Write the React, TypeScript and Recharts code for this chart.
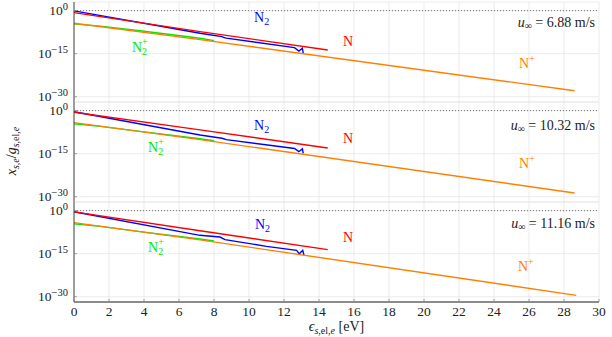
import React from 'react';
import { LineChart, Line, XAxis, YAxis, CartesianGrid, ReferenceLine, ReferenceDot } from 'recharts';

const WIDTH = 612;
const HEIGHT = 337;
const FONT = '"Liberation Serif", "DejaVu Serif", serif';
const TXT = { fontFamily: FONT };

const X_TICKS = [0, 2, 4, 6, 8, 10, 12, 14, 16, 18, 20, 22, 24, 26, 28, 30];
const Y_TICKS = [1e-30, 1e-15, 1];
const Y_DOMAIN = [1.5e-32, 1e3];
const SPEEDS = ['6.88', '10.32', '11.16'];

// ---- Panel 1 (u = 6.88 m/s)
const p1N2E = [0, 7.2, 8.45, 8.55, 8.7, 12.6, 12.85, 13.05, 13.1];
const p1N2 = [7.9e-1, 1.26e-8, 8.9e-10, 5.0e-10, 2.5e-10, 1.26e-13, 7.9e-15, 7.9e-14, 1.26e-15];
const p1NE = [0, 7.2, 14.5];
const p1N = [2.0e-1, 5.0e-8, 2.0e-14];
const p1N2pE = [0, 1.5, 4, 7.2, 8.0];
const p1N2p = [2.5e-5, 4.0e-6, 6.3e-8, 2.5e-10, 3.55e-11];
const p1NpE = [0, 7.2, 28.6];
const p1Np = [4.0e-5, 7.9e-11, 1.26e-28];

// ---- Panel 2 (u = 10.32 m/s)
const p2N2E = [0, 7.2, 8.45, 8.55, 8.7, 12.6, 12.85, 13.05, 13.1];
const p2N2 = [4.0e-1, 3.16e-9, 2.5e-10, 1.58e-10, 7.9e-11, 6.3e-14, 5.0e-15, 5.0e-14, 1.26e-15];
const p2NE = [0, 7.2, 14.5];
const p2N = [2.8e-1, 2.0e-7, 1.0e-13];
const p2N2pE = [0, 1.5, 4, 7.2, 8.0];
const p2N2p = [2.5e-5, 3.16e-6, 4.0e-8, 1.58e-10, 3.16e-11];
const p2NpE = [0, 7.2, 28.6];
const p2Np = [6.3e-5, 7.9e-11, 2.0e-29];

// ---- Panel 3 (u = 11.16 m/s)
const p3N2E = [0, 7.2, 8.34, 8.63, 11.0, 12.72, 12.87, 13.07, 13.14];
const p3N2 = [4.0e-1, 2.5e-9, 6.3e-10, 7.9e-11, 3.55e-13, 1.41e-14, 1.0e-15, 1.41e-14, 3.16e-16];
const p3NE = [0, 7.2, 14.5];
const p3N = [3.55e-1, 1.0e-7, 2.5e-14];
const p3N2pE = [0, 1.5, 4, 7.2, 8.0];
const p3N2p = [2.5e-5, 3.16e-6, 3.16e-8, 1.26e-10, 2.5e-11];
const p3NpE = [0, 7.2, 28.7];
const p3Np = [6.3e-5, 6.3e-11, 3.16e-30];

// label anchors: [energy, log10 value]
const LABEL_POS = [
  { N2: [10.29, -3.94], N: [15.37, -12.31], N2p: [3.31, -14.4], Np: [25.43, -20.0], u: [29.77, -5.69] },
  { N2: [10.29, -6.6], N: [15.37, -11.2], N2p: [4.23, -14.4], Np: [25.43, -19.9], u: [29.77, -6.6] },
  { N2: [10.34, -6.28], N: [15.37, -10.8], N2p: [4.23, -14.3], Np: [25.37, -20.9], u: [29.77, -5.93] },
];

const COLORS = { N2: '#0000ff', N: '#ff0000', N2p: '#00e600', Np: '#ff8000' };

const PANEL_TOPS = [2, 102, 202];
const PLOT_H = 100;
const PLOT_LEFT = 74;
const PLOT_RIGHT_MARGIN = 13;

type Pt = { e: number; v: number };
const zip = (E: number[], V: number[]): Pt[] => E.map((e, i) => ({ e, v: V[i] }));

const PANELS = [
  { N2: zip(p1N2E, p1N2), N: zip(p1NE, p1N), N2p: zip(p1N2pE, p1N2p), Np: zip(p1NpE, p1Np) },
  { N2: zip(p2N2E, p2N2), N: zip(p2NE, p2N), N2p: zip(p2N2pE, p2N2p), Np: zip(p2NpE, p2Np) },
  { N2: zip(p3N2E, p3N2), N: zip(p3NE, p3N), N2p: zip(p3N2pE, p3N2p), Np: zip(p3NpE, p3Np) },
];

const makeXTickBottom = (showLabel: boolean) => (props: any) => {
  const { x, y, payload } = props;
  return (
    <g>
      <line x1={x} x2={x} y1={y} y2={y - 3} stroke="#888" strokeWidth={0.8} />
      {showLabel && (
        <text x={x} y={y + 14} textAnchor="middle" style={TXT} fontSize={13.5} fill="#222">
          {payload.value}
        </text>
      )}
    </g>
  );
};

const XTickTop = (props: any) => {
  const { x, y } = props;
  return <line x1={x} x2={x} y1={y} y2={y + 3} stroke="#888" strokeWidth={0.8} />;
};

const YTickLeft = (props: any) => {
  const { x, y, payload } = props;
  const exp = Math.round(Math.log10(payload.value));
  const expStr = exp < 0 ? '\u2212' + String(-exp) : String(exp);
  return (
    <g>
      <line x1={x} x2={x + 3} y1={y} y2={y} stroke="#888" strokeWidth={0.8} />
      <text x={x - 6} y={y + 4.5} textAnchor="end" style={TXT} fontSize={13.5} fill="#222">
        10
        <tspan dy={-5.5} fontSize={10.5}>
          {expStr}
        </tspan>
      </text>
    </g>
  );
};

const YTickRight = (props: any) => {
  const { x, y } = props;
  return <line x1={x} x2={x - 3} y1={y} y2={y} stroke="#888" strokeWidth={0.8} />;
};

const SpeciesText = ({ cx, cy, kind, color }: any) => {
  const fs = 14;
  if (kind === 'N2')
    return (
      <text x={cx} y={cy} style={TXT} fontSize={fs} fill={color}>
        N<tspan dy={3} fontSize={10}>2</tspan>
      </text>
    );
  if (kind === 'N')
    return (
      <text x={cx} y={cy} style={TXT} fontSize={fs} fill={color}>
        N
      </text>
    );
  if (kind === 'N2p')
    return (
      <text x={cx} y={cy} style={TXT} fontSize={fs} fill={color}>
        N<tspan dy={3} fontSize={10}>2</tspan>
        <tspan dx={-5} dy={-9.5} fontSize={10}>+</tspan>
      </text>
    );
  return (
    <text x={cx} y={cy} style={TXT} fontSize={fs} fill={color}>
      N<tspan dy={-6} fontSize={10}>+</tspan>
    </text>
  );
};

const SpeedText = ({ cx, cy, speed }: any) => (
  <text x={cx} y={cy} textAnchor="end" style={TXT} fontSize={14} fill="#222" xmlSpace="preserve">
    <tspan fontStyle="italic">u</tspan>
    <tspan dy={2.5} fontSize={10}>{'\u221E'}</tspan>
    <tspan dy={-2.5}>{' = ' + speed + ' m/s'}</tspan>
  </text>
);

const Panel = ({ idx }: { idx: number }) => {
  const top = PANEL_TOPS[idx];
  const isLast = idx === PANELS.length - 1;
  const xAxisH = isLast ? 35 : 0;
  const bottom = HEIGHT - top - PLOT_H - xAxisH;
  const series = PANELS[idx];
  const lp: any = LABEL_POS[idx];
  const kinds: Array<'N2' | 'N' | 'N2p' | 'Np'> = ['N2', 'N', 'N2p', 'Np'];
  return (
    <div style={{ position: 'absolute', left: 0, top: 0 }}>
      <LineChart
        width={WIDTH}
        height={HEIGHT}
        margin={{ top, right: PLOT_RIGHT_MARGIN, bottom, left: 0 }}
      >
        <CartesianGrid stroke="#e6e6e6" strokeWidth={0.8} />
        <XAxis
          dataKey="e"
          type="number"
          domain={[0, 30]}
          ticks={X_TICKS}
          interval={0}
          height={xAxisH}
          tickSize={0}
          tickMargin={0}
          tickLine={false}
          axisLine={{ stroke: '#222', strokeWidth: 1 }}
          tick={makeXTickBottom(isLast)}
        />
        <XAxis
          xAxisId="top"
          orientation="top"
          dataKey="e"
          type="number"
          domain={[0, 30]}
          ticks={X_TICKS}
          interval={0}
          height={0}
          tickSize={0}
          tickMargin={0}
          tickLine={false}
          axisLine={{ stroke: '#222', strokeWidth: 1 }}
          tick={XTickTop}
        />
        <YAxis
          type="number"
          scale="log"
          domain={Y_DOMAIN}
          allowDataOverflow
          ticks={Y_TICKS}
          interval={0}
          width={PLOT_LEFT}
          tickSize={0}
          tickMargin={0}
          tickLine={false}
          axisLine={{ stroke: '#444', strokeWidth: 1 }}
          tick={YTickLeft}
        />
        <YAxis
          yAxisId="right"
          orientation="right"
          type="number"
          scale="log"
          domain={Y_DOMAIN}
          allowDataOverflow
          ticks={Y_TICKS}
          interval={0}
          width={0}
          tickSize={0}
          tickMargin={0}
          tickLine={false}
          axisLine={{ stroke: '#444', strokeWidth: 1 }}
          tick={YTickRight}
        />
        <ReferenceLine y={1} stroke="#555" strokeWidth={0.8} strokeDasharray="1 2" />
        {kinds.map((k) => (
          <Line
            key={k}
            data={series[k]}
            dataKey="v"
            type="linear"
            stroke={COLORS[k]}
            strokeWidth={1.4}
            dot={false}
            activeDot={false}
            isAnimationActive={false}
          />
        ))}
        {kinds.map((k) => (
          <ReferenceDot
            key={'l' + k}
            x={lp[k][0]}
            y={Math.pow(10, lp[k][1])}
            r={0}
            shape={(p: any) => <SpeciesText cx={p.cx} cy={p.cy} kind={k} color={COLORS[k]} />}
          />
        ))}
        <ReferenceDot
          x={lp.u[0]}
          y={Math.pow(10, lp.u[1])}
          r={0}
          shape={(p: any) => <SpeedText cx={p.cx} cy={p.cy} speed={SPEEDS[idx]} />}
        />
      </LineChart>
    </div>
  );
};

export default function App() {
  return (
    <div style={{ position: 'absolute', left: 0, top: 0, width: WIDTH, height: HEIGHT, background: '#fff' }}>
      {PANELS.map((_, i) => (
        <Panel key={i} idx={i} />
      ))}
      <svg
        width={WIDTH}
        height={HEIGHT}
        style={{ position: 'absolute', left: 0, top: 0, pointerEvents: 'none' }}
      >
        <text
          transform="translate(16,151) rotate(-90)"
          textAnchor="middle"
          style={TXT}
          fontSize={14}
          fill="#222"
        >
          <tspan fontStyle="italic">x</tspan>
          <tspan dy={2.5} fontSize={10} fontStyle="italic">s,e</tspan>
          <tspan dy={-2.5}>/</tspan>
          <tspan fontStyle="italic">g</tspan>
          <tspan dy={2.5} fontSize={10}>
            <tspan fontStyle="italic">s</tspan>,el,<tspan fontStyle="italic">e</tspan>
          </tspan>
        </text>
        <text x={336.5} y={331} textAnchor="middle" style={TXT} fontSize={14} fill="#222">
          <tspan fontStyle="italic">{'\u03F5'}</tspan>
          <tspan dy={2.5} fontSize={10}>
            <tspan fontStyle="italic">s</tspan>,el,<tspan fontStyle="italic">e</tspan>
          </tspan>
          <tspan dy={-2.5}>{' [eV]'}</tspan>
        </text>
      </svg>
    </div>
  );
}
